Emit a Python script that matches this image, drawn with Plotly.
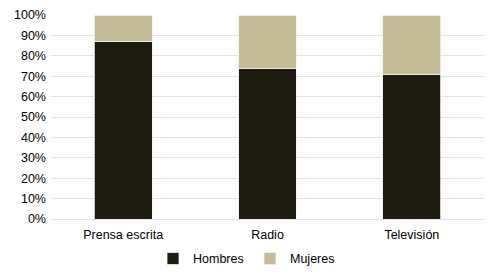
import plotly.graph_objects as go

categories = ["Prensa escrita", "Radio", "Televisión"]
hombres = [87, 74, 71]
mujeres = [13, 26, 29]
tick_vals = [0, 10, 20, 30, 40, 50, 60, 70, 80, 90, 100]
tick_text = [f"{v}%" for v in tick_vals]

fig = go.Figure()
fig.add_trace(go.Bar(x=categories, y=hombres, name="Hombres",
                     marker=dict(color="#1D1B10", line=dict(color="#f2f2f2", width=0.8))))
fig.add_trace(go.Bar(x=categories, y=mujeres, name="Mujeres",
                     marker=dict(color="#C4BD97", line=dict(color="#f2f2f2", width=0.8))))

fig.update_layout(
    barmode="stack",
    bargap=0.6,
    width=500, height=279,
    margin=dict(l=51, r=16, t=15, b=60, autoexpand=False),
    paper_bgcolor="white", plot_bgcolor="white",
    font=dict(family="Liberation Sans, Arial, sans-serif", size=12, color="#000000"),
    showlegend=True,
    legend=dict(orientation="h", x=0.5, xanchor="center", xref="container",
                y=0.072, yanchor="middle", yref="container",
                traceorder="normal",
                font=dict(size=12.5), itemwidth=30, tracegroupgap=0,
                entrywidth=52, entrywidthmode="pixels",
                itemclick=False),
    xaxis=dict(showgrid=False, showline=False, ticks="", tickfont=dict(size=12.5),
               ticklabelstandoff=6, automargin=False),
    yaxis=dict(range=[0, 100], tickvals=tick_vals, ticktext=tick_text,
               showgrid=True, gridcolor="#e3e3e3", gridwidth=1,
               zeroline=True, zerolinecolor="#e3e3e3", zerolinewidth=1,
               showline=False, ticks="", ticklen=0, tickfont=dict(size=12.5),
               ticklabelstandoff=4, automargin=False),
)

fig.write_html("out.html")
